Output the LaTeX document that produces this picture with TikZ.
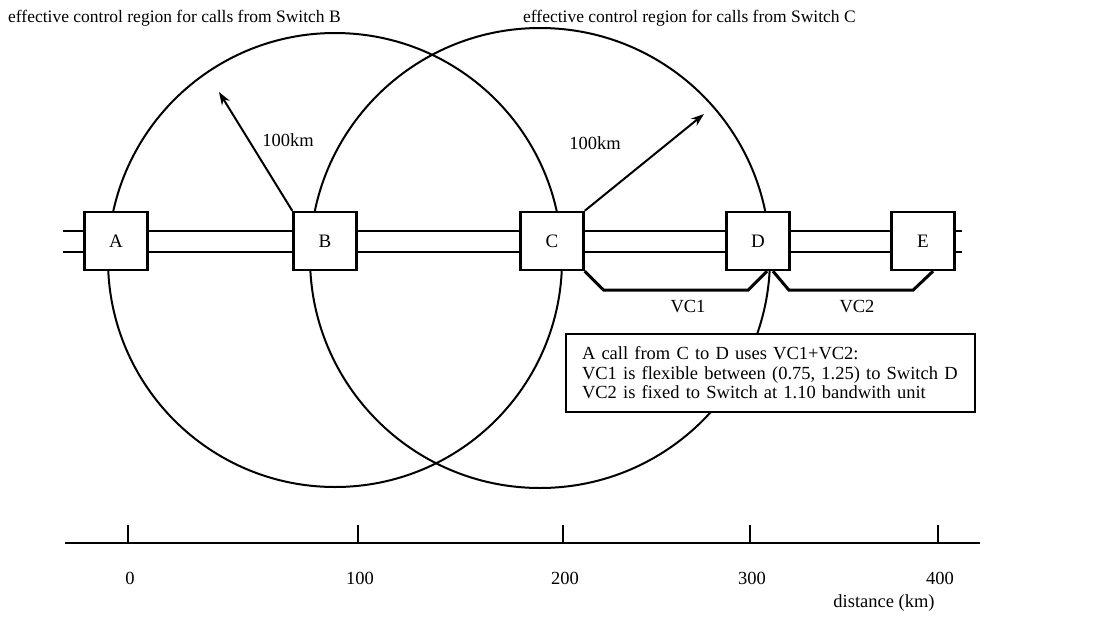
\documentclass[tikz,border=0pt]{standalone}
\usepackage{fontspec}
\setmainfont{Liberation Serif}
\usetikzlibrary{arrows.meta, positioning, calc}
\tikzset{
    switchbox/.style={rectangle, draw, line width=2.4pt, fill=white,
                      minimum width=63pt, minimum height=58pt, inner sep=0pt,
                      font=\fontsize{19}{22}\selectfont},
    region/.style={line width=2pt},
    link/.style={line width=2pt},
    vcpath/.style={line width=3pt, line join=miter},
    reach/.style={-{Stealth[length=13pt, width=9pt]}, line width=2pt},
    axisline/.style={line width=2.8pt},
    axistick/.style={line width=2pt},
    lbl/.style={font=\fontsize{18.5}{21}\selectfont, inner sep=0pt},
    headlbl/.style={font=\fontsize{17.5}{20}\selectfont, inner sep=0pt},
    notebox/.style={draw, line width=2pt, fill=white, align=left,
                    text width=377pt, inner xsep=16pt, minimum height=78pt,
                    font=\fontsize{18.5}{19.5}\selectfont},
}

\begin{document}
\begin{tikzpicture}[x=1pt, y=-1pt]
    \useasboundingbox (0,0) rectangle (1099,616);
    % Control regions (drawn first, the switches hide them)
    \draw[region] (335,260) circle[radius=227];
    \draw[region] (540,258) circle[radius=230];
    % Switches
    \node[switchbox] (A) at (116,241) {A};
    \node[switchbox] (B) at (325,241) {B};
    \node[switchbox] (C) at (552,241) {C};
    \node[switchbox] (D) at (758,241) {D};
    \node[switchbox] (E) at (923,241) {E};
    \coordinate (wend) at (63,241);
    \coordinate (eend) at (962,241);
    % Double links
    \foreach \p/\q in {wend/A, A/B, B/C, C/D, D/E, E/eend} {
        \draw[link] ([yshift=10.5pt]\p.east) -- ([yshift=10.5pt]\q.west);
        \draw[link] ([yshift=-10.5pt]\p.east) -- ([yshift=-10.5pt]\q.west);
    }
    % Virtual circuits
    \draw[vcpath] (C.south east) -- ++(19,19) -- ($(D.south)+(-10,19)$)
        -- ($(D.south)+(9,0)$);
    \draw[vcpath] ($(D.south)+(15,0)$) -- ++(16,19) -- ($(E.south)+(-10,19)$)
        -- ($(E.south)+(10,0)$);
    \node[lbl] (vc1) at (688,307) {VC1};
    \node[lbl] (vc2) at (857,307) {VC2};
    % Radius of each region
    \coordinate (tipB) at (219,92);
    \coordinate (tipC) at (704,114);
    \draw[reach] (B.north west) -- (tipB);
    \draw[reach] (C.north east) -- (tipC);
    \node[lbl] (kmB) at (288,140) {100km};
    \node[lbl] (kmC) at (595,143) {100km};
    % Headings
    \node[headlbl, anchor=west] (hdrB) at (8,18)
        {effective control region for calls from Switch B};
    \node[headlbl, anchor=west] (hdrC) at (523,18)
        {effective control region for calls from Switch C};
    % Note
    \node[notebox, anchor=north west] (note) at (565,333)
        {A call from C to D uses VC1+VC2:\\
         VC1 is flexible between (0.75, 1.25) to Switch D\\
         VC2 is fixed to Switch at 1.10 bandwith unit};
    % Distance axis
    \coordinate (axl) at (65,543);
    \coordinate (axr) at (980,543);
    \draw[axisline] (axl) -- (axr);
    \foreach \x/\d in {128/0, 358/100, 563/200, 750/300, 938/400} {
        \draw[axistick] (\x,543) -- (\x,525);
        \node[lbl] (t\d) at (\x+2,578) {\d};
    }
    \node[lbl] (dist) at (884,603) {distance (km)};
\end{tikzpicture}
\end{document}
